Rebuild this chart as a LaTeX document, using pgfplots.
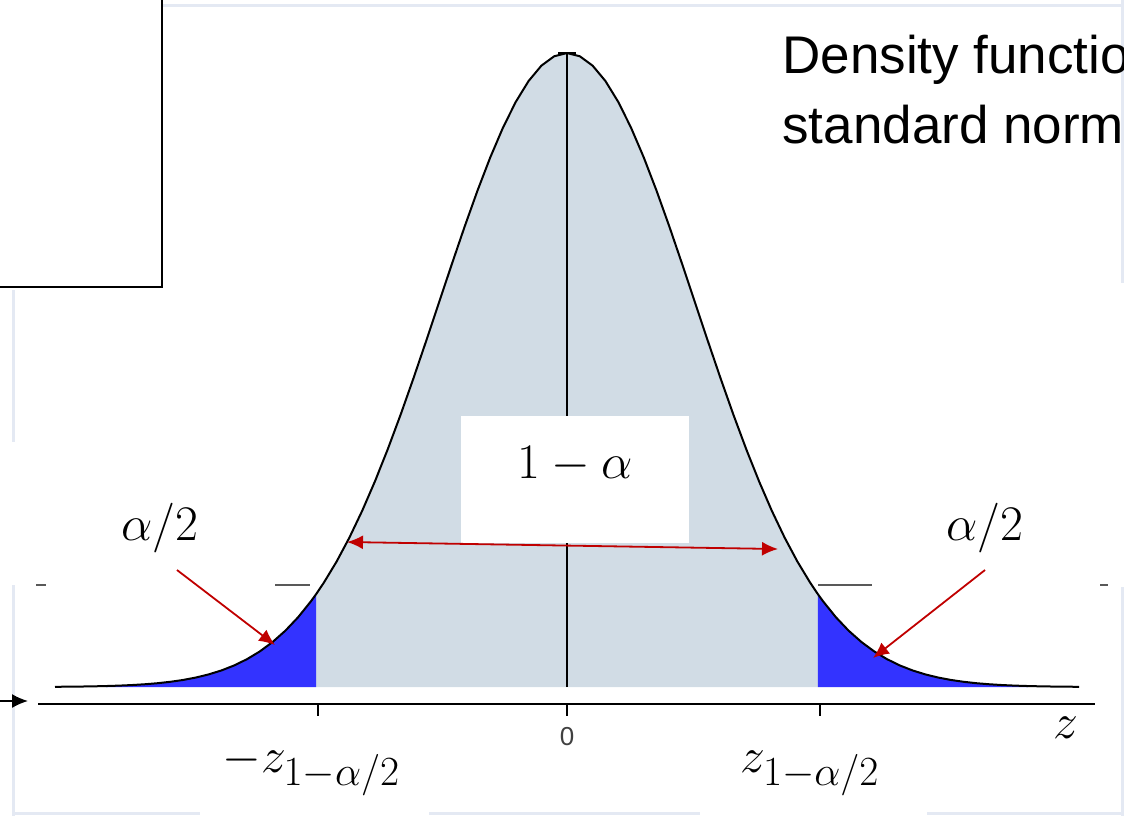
\documentclass[border=0pt]{standalone}
\usepackage{fontspec}
\usepackage{pgfplots}
\usepackage{pgfplotstable}
\pgfplotsset{compat=1.18}
\usetikzlibrary{arrows.meta}
\newfontfamily\arialfont{Liberation Sans}

\definecolor{midfill}{RGB}{209,220,229}
\definecolor{tailfill}{RGB}{51,51,255}
\definecolor{arrowred}{RGB}{192,0,0}
\definecolor{framegray}{RGB}{228,233,243}

% standard normal density phi(z)
\pgfplotstableread{
z d
-4.0 0.00013
-3.9 0.00020
-3.8 0.00029
-3.7 0.00042
-3.6 0.00061
-3.5 0.00087
-3.4 0.00123
-3.3 0.00172
-3.2 0.00238
-3.1 0.00327
-3.0 0.00443
-2.9 0.00595
-2.8 0.00792
-2.7 0.01042
-2.6 0.01358
-2.5 0.01753
-2.4 0.02239
-2.3 0.02833
-2.2 0.03547
-2.1 0.04398
-2.0 0.05399
-1.96 0.05844
-1.9 0.06562
-1.8 0.07895
-1.7 0.09405
-1.6 0.11092
-1.5 0.12952
-1.4 0.14973
-1.3 0.17137
-1.2 0.19419
-1.1 0.21785
-1.0 0.24197
-0.9 0.26609
-0.8 0.28969
-0.7 0.31225
-0.6 0.33322
-0.5 0.35207
-0.4 0.36827
-0.3 0.38139
-0.2 0.39104
-0.1 0.39695
0.0 0.39894
0.1 0.39695
0.2 0.39104
0.3 0.38139
0.4 0.36827
0.5 0.35207
0.6 0.33322
0.7 0.31225
0.8 0.28969
0.9 0.26609
1.0 0.24197
1.1 0.21785
1.2 0.19419
1.3 0.17137
1.4 0.14973
1.5 0.12952
1.6 0.11092
1.7 0.09405
1.8 0.07895
1.9 0.06562
1.96 0.05844
2.0 0.05399
2.1 0.04398
2.2 0.03547
2.3 0.02833
2.4 0.02239
2.5 0.01753
2.6 0.01358
2.7 0.01042
2.8 0.00792
2.9 0.00595
3.0 0.00443
3.1 0.00327
3.2 0.00238
3.3 0.00172
3.4 0.00123
3.5 0.00087
3.6 0.00061
3.7 0.00042
3.8 0.00029
3.9 0.00020
4.0 0.00013
}\density

\begin{document}
\begin{tikzpicture}
% density curve with shaded regions
\begin{axis}[
  scale only axis, width=562pt, height=408pt,
  xmin=-4.4297, xmax=4.3516, ymin=-0.08118, ymax=0.43235,
  hide axis, clip=false]
  \addplot[draw=none, fill=midfill, restrict x to domain=-1.96:1.96] table {\density} \closedcycle;
  \addplot[draw=none, fill=tailfill, restrict x to domain=-3.6:-1.96] table {\density} \closedcycle;
  \addplot[draw=none, fill=tailfill, restrict x to domain=1.96:3.6] table {\density} \closedcycle;
  \addplot[black, line width=1pt] table {\density};
  \addplot[black, line width=1.1pt] coordinates {(0,0) (0,0.39894)};
  \addplot[black, line width=1pt] coordinates {(-0.07,0.39894) (0.07,0.39894)};
\end{axis}
% annotation layer in page units
\begin{axis}[name=px,
  scale only axis, width=562pt, height=408pt,
  xmin=0, xmax=1124, ymin=0, ymax=816, y dir=reverse,
  hide axis, clip=false]
  % faint frame
  \draw[framegray, line width=1.5pt] (162,5) -- (1124,5);
  \draw[framegray, line width=1.5pt] (13,290) -- (13,442);
  \draw[framegray, line width=1.5pt] (13,585) -- (13,816);
  \draw[framegray, line width=1.5pt] (1122,0) -- (1122,283);
  \draw[framegray, line width=1.5pt] (1122,587) -- (1122,816);
  \draw[framegray, line width=1.5pt] (13,813) -- (200,813);
  \draw[framegray, line width=1.5pt] (429,813) -- (700,813);
  \draw[framegray, line width=1.5pt] (927,813) -- (1124,813);
  % short gray dashes
  \draw[black!65, line width=0.6pt] (36,585) -- (46,585);
  \draw[black!65, line width=0.6pt] (275,585) -- (310,585);
  \draw[black!65, line width=0.6pt] (818,585) -- (872,585);
  \draw[black!65, line width=0.6pt] (1100,585) -- (1108,585);
  % top-left box
  \draw[black, line width=1pt, fill=white] (-2,-2) rectangle (162,287);
  % z axis
  \draw[black, line width=1.2pt] (38,704) -- (1095,704);
  \draw[black, line width=1pt] (318,704) -- (318,716);
  \draw[black, line width=1pt] (567,704) -- (567,716);
  \draw[black, line width=1pt] (820,704) -- (820,716);
  \draw[black, line width=0.8pt, -{Latex[length=8pt,width=7pt]}] (0,701) -- (28,701);
  \node[anchor=base, inner sep=0, text=black!75, font=\arialfont\fontsize{13}{15}\selectfont] at (567,745) {0};
  \node[anchor=base, inner sep=0, font=\fontsize{29}{32}\selectfont] at (1066,738) {$z$};
  \node[anchor=base west, inner sep=0, font=\fontsize{29}{32}\selectfont] at (222,772) {$-z_{1-\alpha/2}$};
  \node[anchor=base west, inner sep=0, font=\fontsize{29}{32}\selectfont] at (740,772) {$z_{1-\alpha/2}$};
  % title text
  \node[anchor=base west, inner sep=0, font=\arialfont\fontsize{26.5}{32}\selectfont] at (782,73) {Density function of the};
  \node[anchor=base west, inner sep=0, font=\arialfont\fontsize{26.5}{32}\selectfont] at (782,143) {standard normal distribution};
  % central area label
  \fill[white] (461,416) rectangle (689,543);
  \node[anchor=base, inner sep=0, font=\fontsize{26}{30}\selectfont] at (575,478) {$1-\alpha$};
  % tail labels
  \node[anchor=base, inner sep=0, font=\fontsize{26}{30}\selectfont] at (160,540) {$\alpha/2$};
  \node[anchor=base, inner sep=0, font=\fontsize{26}{30}\selectfont] at (985,540) {$\alpha/2$};
  % red arrows
  \draw[arrowred, line width=0.9pt, {Latex[length=8pt,width=7pt]}-{Latex[length=8pt,width=7pt]}] (347,542) -- (778,549);
  \draw[arrowred, line width=0.9pt, -{Latex[length=8pt,width=7pt]}] (177,570) -- (275,645);
  \draw[arrowred, line width=0.9pt, -{Latex[length=8pt,width=7pt]}] (985,570) -- (873,658);
\end{axis}
\pgfresetboundingbox
\useasboundingbox (px.south west) rectangle (px.north east);
\end{tikzpicture}
\end{document}
